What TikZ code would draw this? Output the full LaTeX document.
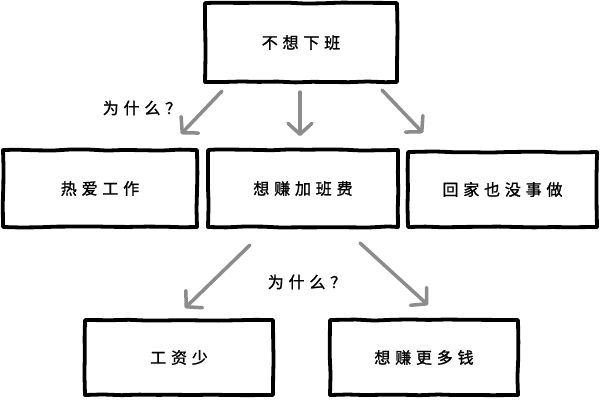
\documentclass[tikz,border=0pt]{standalone}
\usepackage{fontspec}
\setmainfont{Noto Sans CJK SC}
\newfontfamily\cjkspaced{Noto Sans CJK SC}[LetterSpace=30,FakeBold=1.2]
\usetikzlibrary{arrows.meta,decorations.pathmorphing}
\definecolor{arrowgray}{RGB}{140,140,140}
\begin{document}
\begin{tikzpicture}[x=1pt,y=-1pt,
  box/.style={draw=black,line width=3.8pt,line join=round,
    decorate,decoration={random steps,segment length=18pt,amplitude=0.6pt},
    inner sep=0pt,font=\cjkspaced\fontsize{16}{19}\selectfont},
  conn/.style={draw=arrowgray,line width=3.5pt,line cap=round,
    -{Straight Barb[length=11pt,width=24pt,line join=round,line cap=round]}},
  why/.style={font=\cjkspaced\fontsize{16}{19}\selectfont,inner sep=0pt}]
\useasboundingbox[fill=white] (0,0) rectangle (600,400);

\node[box,minimum width=192pt,minimum height=79pt] (top) at (301,42.5) {不想下班};
\node[box,minimum width=194pt,minimum height=77pt] (love) at (100,188.5) {热爱工作};
\node[box,minimum width=190pt,minimum height=77pt] (ot) at (303,188.5) {想赚加班费};
\node[box,minimum width=189pt,minimum height=75pt] (home) at (502.5,189.5) {回家也没事做};
\node[box,minimum width=188pt,minimum height=75pt] (low) at (179,357.5) {工资少};
\node[box,minimum width=188pt,minimum height=75pt] (more) at (424,357.5) {想赚更多钱};

\node[why] (why1) at (142,108) {为什么？};
\node[why] (why2) at (307,282) {为什么？};

\coordinate (a1s) at (222,91);  \coordinate (a1e) at (181,134);
\coordinate (a2s) at (300,92);  \coordinate (a2e) at (300,136);
\coordinate (a3s) at (382,90);  \coordinate (a3e) at (423,133);
\coordinate (b1s) at (250,245); \coordinate (b1e) at (185,308);
\coordinate (b2s) at (360,243); \coordinate (b2e) at (428,305);

\draw[conn] (a1s) -- (a1e);
\draw[conn] (a2s) -- (a2e);
\draw[conn] (a3s) -- (a3e);
\draw[conn] (b1s) -- (b1e);
\draw[conn] (b2s) -- (b2e);
\end{tikzpicture}
\end{document}
